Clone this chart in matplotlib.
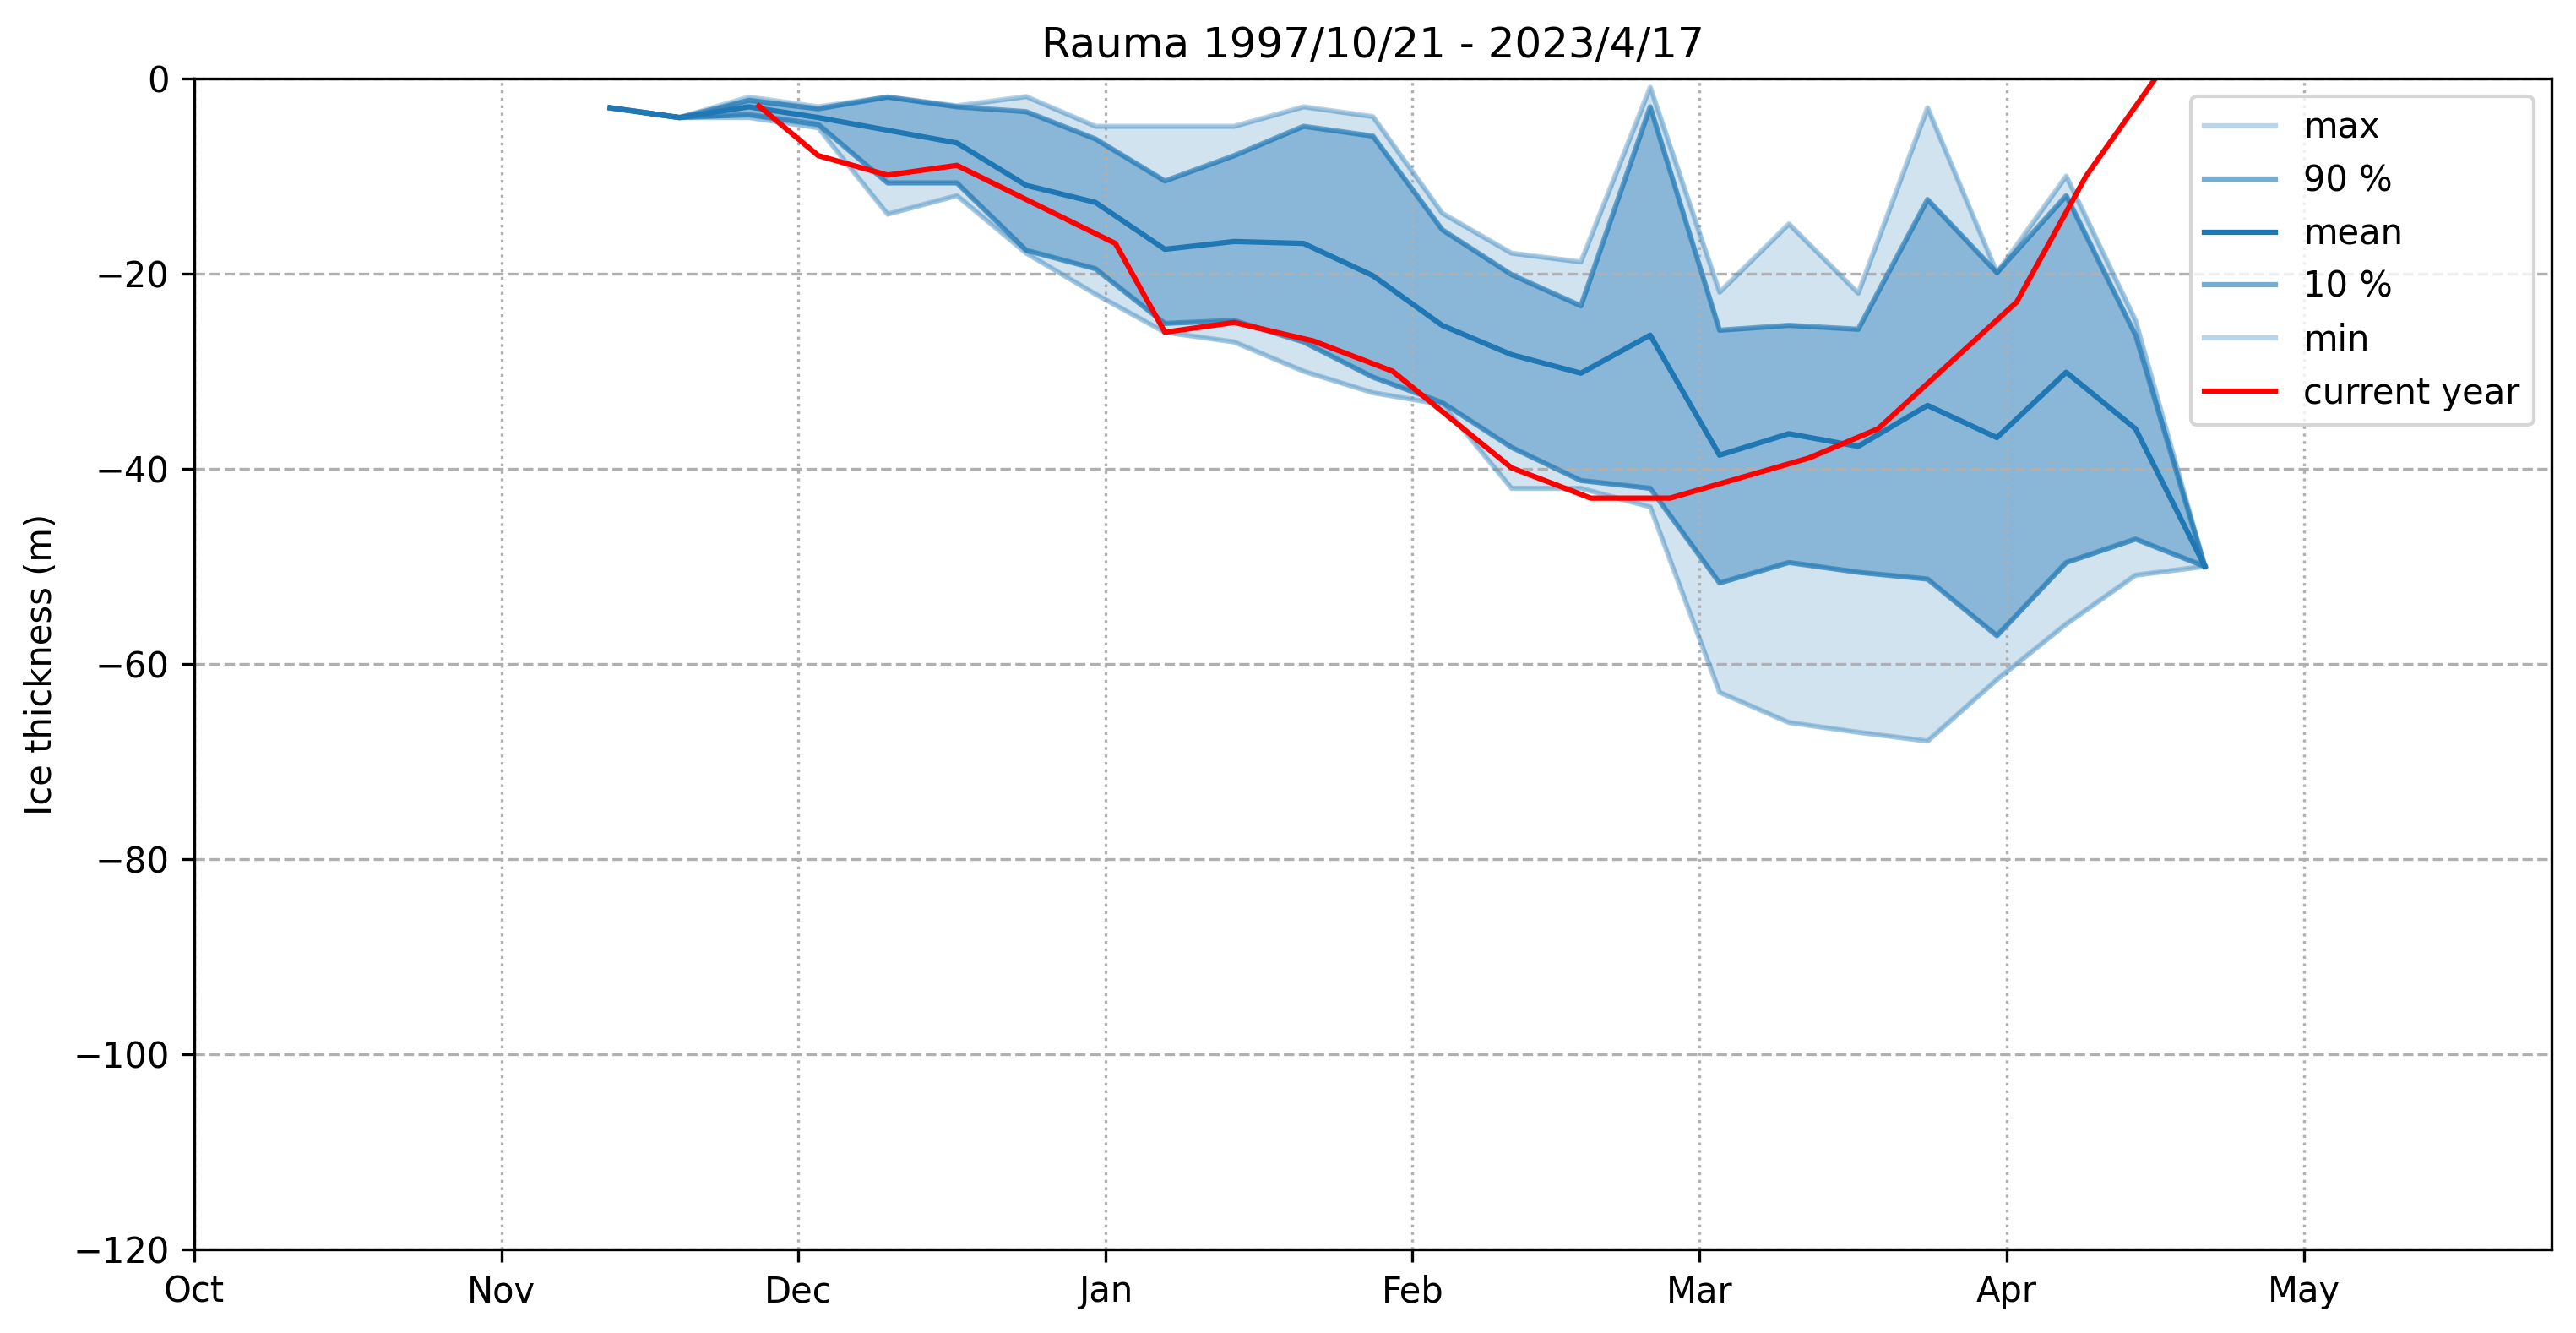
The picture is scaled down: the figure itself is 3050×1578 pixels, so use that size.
import numpy as np
import pandas as pd
import matplotlib
matplotlib.use('Agg')
import matplotlib.pyplot as plt
import matplotlib.dates as mdates

# weekly statistics over the season (1997/10/21 - 2023/4/17)
stat_dates = pd.date_range('2023-11-12', periods=24, freq='7D')
ice_max = [-3, -4, -1.9, -2.9, -1.9, -2.8, -1.85, -4.9, -4.9, -4.9, -2.9, -3.9,
           -13.8, -17.9, -18.8, -0.9, -21.9, -14.9, -22.0, -3.0, -19.9, -10.0, -24.8, -50]
ice_p90 = [-3, -4, -2.25, -3.1, -1.9, -2.9, -3.4, -6.2, -10.5, -7.9, -4.9, -5.9,
           -15.5, -20.1, -23.3, -2.9, -25.8, -25.3, -25.7, -12.4, -19.9, -12.0, -26.3, -50]
ice_mean = [-3, -4, -2.9, -4.0, -5.3, -6.6, -10.95, -12.7, -17.5, -16.7, -16.9, -20.2,
            -25.3, -28.3, -30.2, -26.3, -38.6, -36.4, -37.7, -33.5, -36.8, -30.1, -35.9, -50]
ice_p10 = [-3, -4, -3.7, -4.7, -10.7, -10.7, -17.6, -19.5, -25.1, -24.8, -27.0, -30.6,
           -33.2, -37.8, -41.2, -42.0, -51.7, -49.6, -50.6, -51.3, -57.1, -49.6, -47.2, -50]
ice_min = [-3, -4, -4.0, -5.05, -13.9, -12.0, -17.9, -22.1, -26.0, -27.0, -30.0, -32.2,
           -33.4, -42.0, -42.0, -43.9, -62.9, -66.0, -67.0, -67.9, -61.6, -55.9, -50.9, -50]

# current year measurements
cur_dates = pd.to_datetime(['2023-11-27', '2023-12-03', '2023-12-10', '2023-12-17',
                            '2024-01-02', '2024-01-07', '2024-01-14', '2024-01-22',
                            '2024-01-30', '2024-02-11', '2024-02-19', '2024-02-27',
                            '2024-03-12', '2024-03-19', '2024-04-02', '2024-04-09',
                            '2024-04-16'])
cur_vals = [-2.8, -7.9, -9.9, -8.9, -16.9, -26.0, -25.0, -26.9, -30.0, -39.9, -43.0,
            -43.0, -38.9, -35.9, -22.9, -10.0, 0]

fig, ax = plt.subplots(figsize=(3050 / 300, 1578 / 300), dpi=300)
fig.subplots_adjust(left=0.0754, right=0.9905, top=0.9411, bottom=0.0627)

c = 'tab:blue'
ax.fill_between(stat_dates, ice_min, ice_max, color=c, alpha=0.2)
ax.fill_between(stat_dates, ice_p10, ice_p90, color=c, alpha=0.4)
ax.plot(stat_dates, ice_max, color=c, alpha=0.3, label='max')
ax.plot(stat_dates, ice_p90, color=c, alpha=0.6, label='90 %')
ax.plot(stat_dates, ice_mean, color=c, label='mean')
ax.plot(stat_dates, ice_p10, color=c, alpha=0.6, label='10 %')
ax.plot(stat_dates, ice_min, color=c, alpha=0.3, label='min')
ax.plot(cur_dates, cur_vals, color='red', label='current year')

start = pd.Timestamp('2023-10-01')
ax.set_xlim(start, start + pd.Timedelta(days=238))
ax.set_ylim(-120, 0)
ax.xaxis.set_major_locator(mdates.MonthLocator())
ax.xaxis.set_major_formatter(mdates.DateFormatter('%b'))
ax.yaxis.grid(True, linestyle='--')
ax.xaxis.grid(True, linestyle=':')

ax.set_title('Rauma 1997/10/21 - 2023/4/17')
ax.set_ylabel('Ice thickness (m)')
ax.legend(loc='upper right')

fig.savefig('out.png', dpi=300)
